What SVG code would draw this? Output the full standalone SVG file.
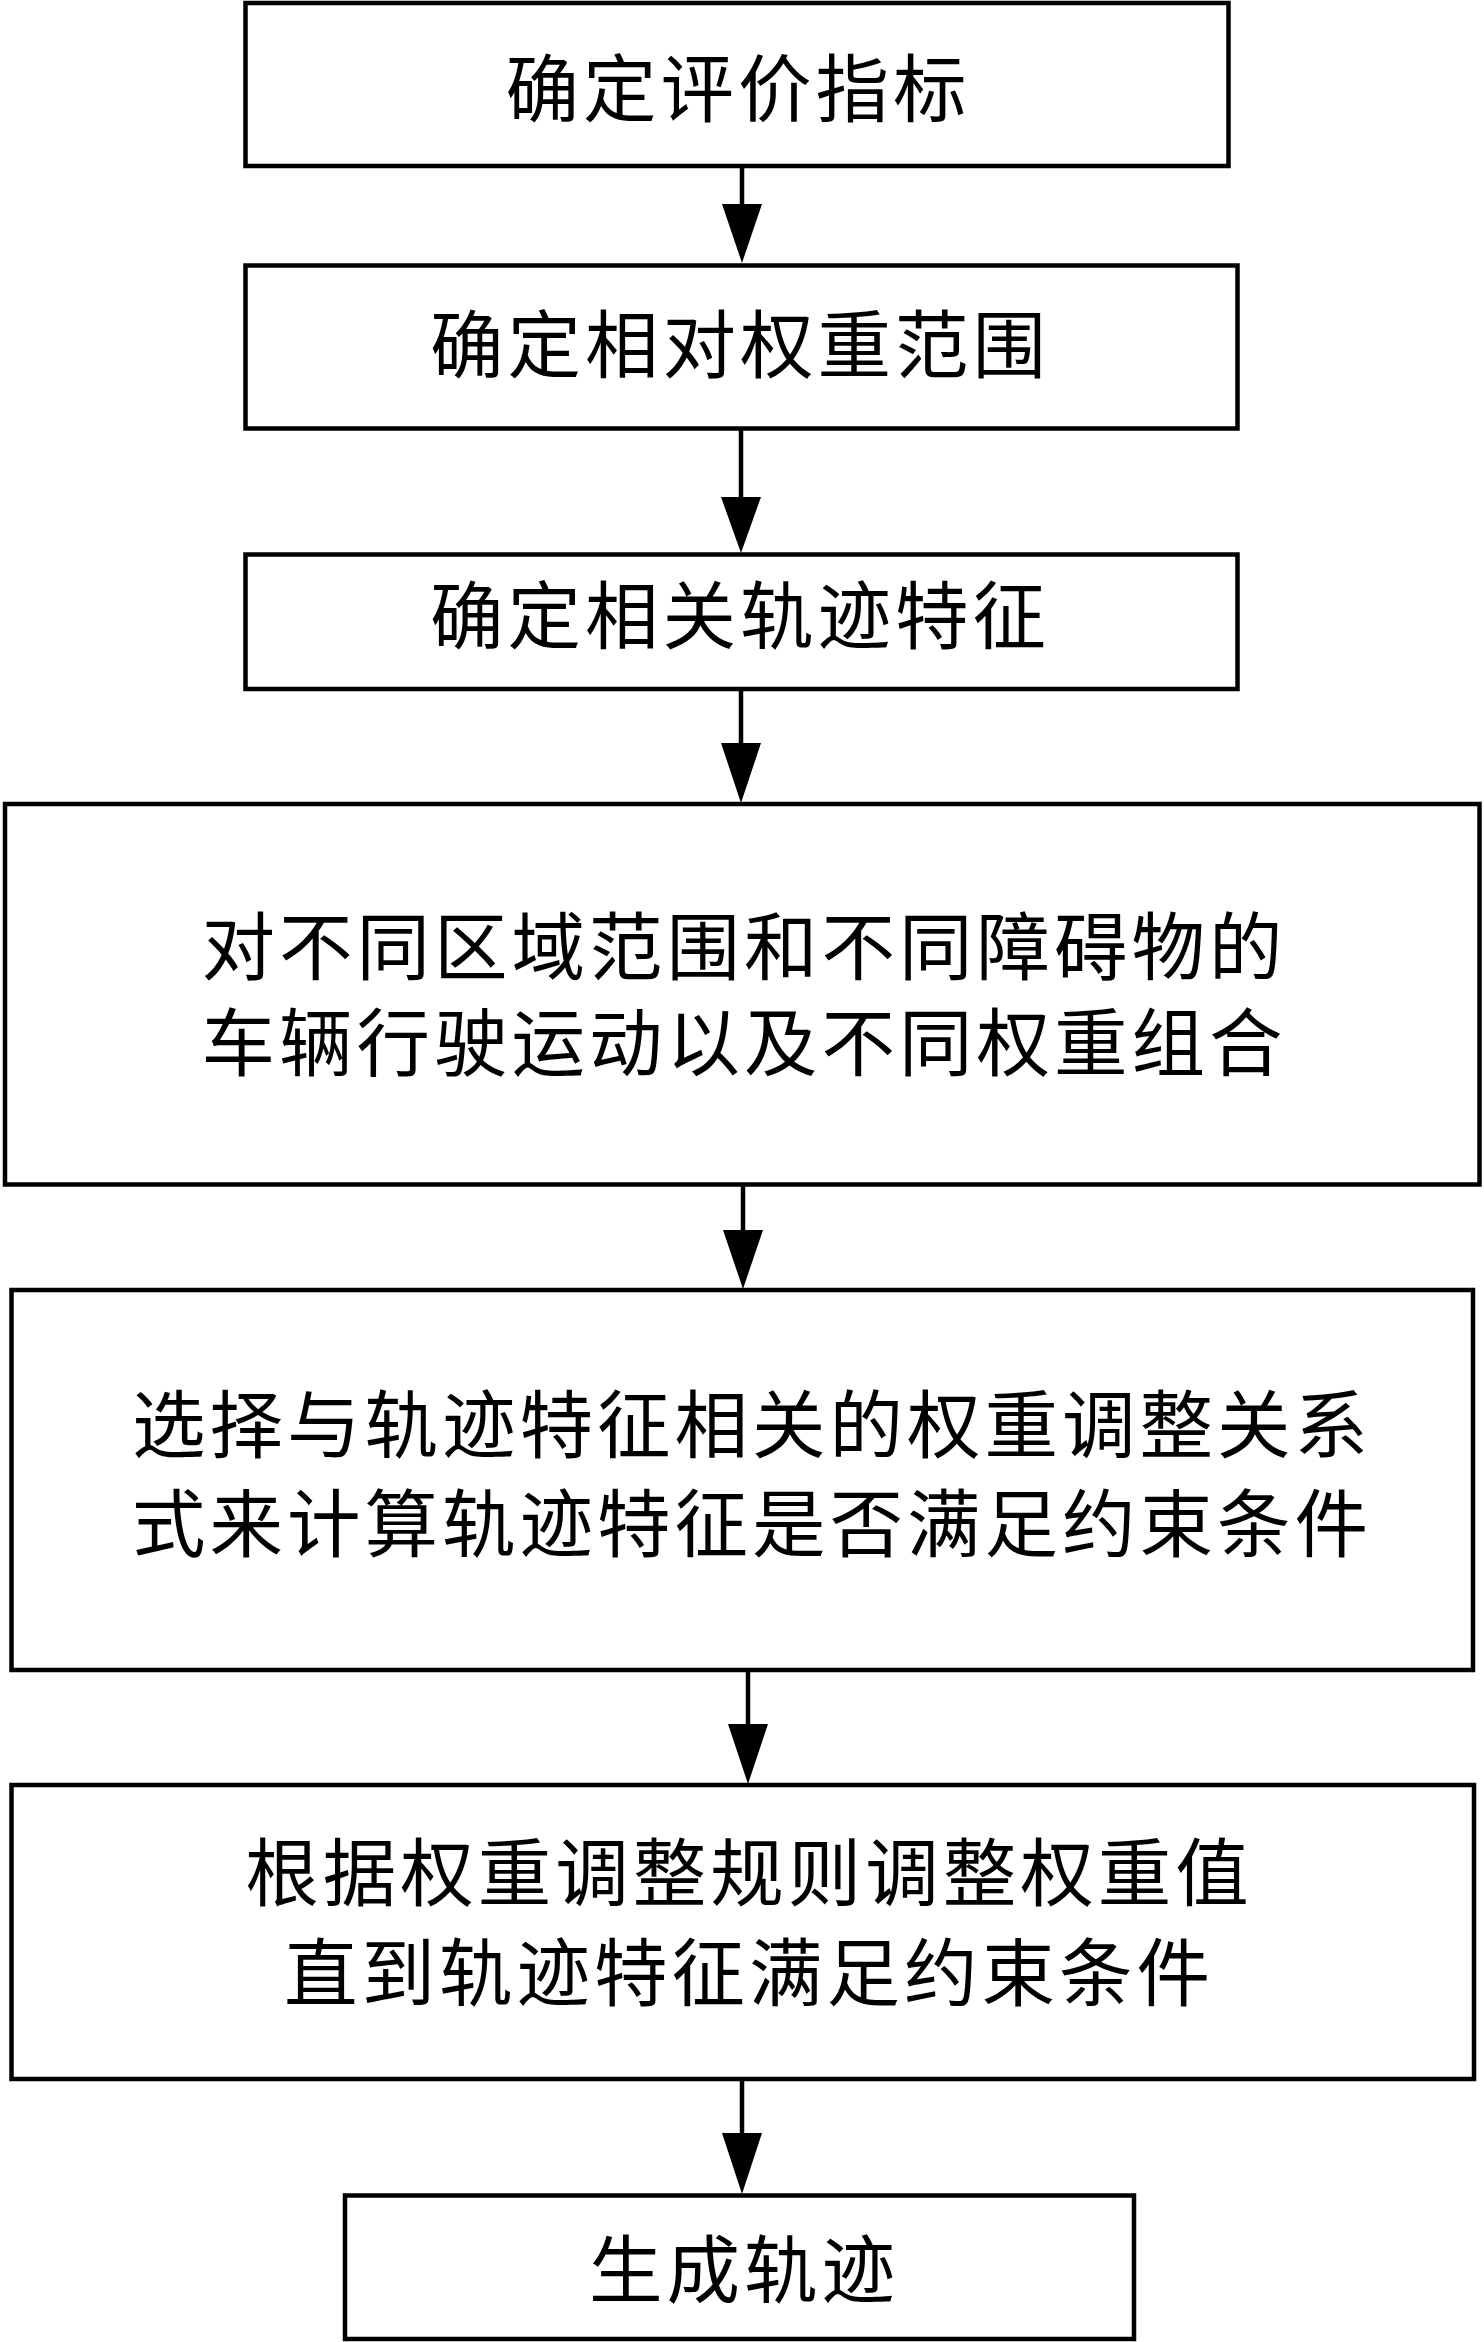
<svg xmlns="http://www.w3.org/2000/svg" width="1484" height="2342" viewBox="0 0 1484 2342">
<style>
.box{fill:#fff;stroke:#000;stroke-width:4.5}
.t{font-family:"Noto Sans CJK SC","Noto Sans CJK TC",sans-serif;font-size:73.5px;fill:#000;text-anchor:middle;letter-spacing:4px}
.c{stroke:#000;stroke-width:4.5;fill:none}
.h{fill:#000}
</style>
<rect width="1484" height="2342" fill="#fff"/>
<g id="connectors">
<line class="c" x1="742" y1="166" x2="742" y2="206"/><polygon class="h" points="722,204 762,204 742,263"/>
<line class="c" x1="741" y1="428" x2="741" y2="500"/><polygon class="h" points="721,497 761,497 741,553"/>
<line class="c" x1="741" y1="689" x2="741" y2="745"/><polygon class="h" points="721,743 761,743 741,803"/>
<line class="c" x1="743" y1="1184" x2="743" y2="1232"/><polygon class="h" points="723,1230 763,1230 743,1289"/>
<line class="c" x1="748" y1="1670" x2="748" y2="1726"/><polygon class="h" points="728,1724 768,1724 748,1784"/>
<line class="c" x1="742" y1="2079" x2="742" y2="2135"/><polygon class="h" points="722,2133 762,2133 742,2194"/>
</g>
<g id="n1"><rect class="box" x="245.5" y="3" width="983" height="163"/><text class="t" x="738" y="116">确定评价指标</text></g>
<g id="n2"><rect class="box" x="245.5" y="265.5" width="992" height="163"/><text class="t" x="740" y="372">确定相对权重范围</text></g>
<g id="n3"><rect class="box" x="245.5" y="554.5" width="992" height="134.5"/><text class="t" x="740" y="643">确定相关轨迹特征</text></g>
<g id="n4"><rect class="box" x="5" y="804" width="1474.5" height="380.5"/><text class="t" x="744" y="974">对不同区域范围和不同障碍物的</text><text class="t" x="744" y="1070">车辆行驶运动以及不同权重组合</text></g>
<g id="n5"><rect class="box" x="11.5" y="1290" width="1461.5" height="380"/><text class="t" x="752" y="1452">选择与轨迹特征相关的权重调整关系</text><text class="t" x="752" y="1551">式来计算轨迹特征是否满足约束条件</text></g>
<g id="n6"><rect class="box" x="11.5" y="1785" width="1462.5" height="294"/><text class="t" x="749" y="1900">根据权重调整规则调整权重值</text><text class="t" x="749" y="2000">直到轨迹特征满足约束条件</text></g>
<g id="n7"><rect class="box" x="345" y="2195.5" width="789" height="143.5"/><text class="t" x="744" y="2297">生成轨迹</text></g>
</svg>
